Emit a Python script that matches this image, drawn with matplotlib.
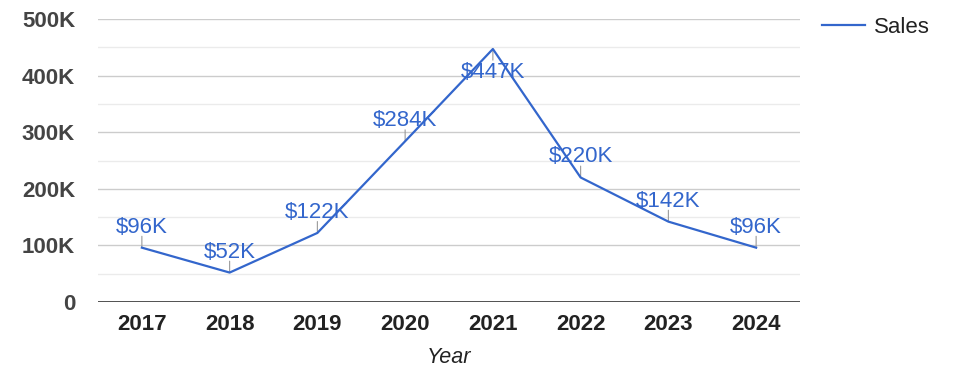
import matplotlib
matplotlib.use("Agg")
import matplotlib.pyplot as plt

plt.rcParams['font.family'] = ['Liberation Sans', 'DejaVu Sans']

years = ["2017", "2018", "2019", "2020", "2021", "2022", "2023", "2024"]
sales = [96000, 52000, 122000, 284000, 447000, 220000, 142000, 96000]
labels = ["$96K", "$52K", "$122K", "$284K", "$447K", "$220K", "$142K", "$96K"]
yticks = [0, 100000, 200000, 300000, 400000, 500000]
ytick_labels = ["0", "100K", "200K", "300K", "400K", "500K"]
minor_ticks = [50000, 150000, 250000, 350000, 450000]

BLUE = "#3366CC"
fig = plt.figure(figsize=(9.75, 3.78), dpi=100)
ax = fig.add_axes([98/975, 1 - 302/378, (800-98)/975, (302-19)/378])

x = list(range(len(years)))
ax.plot(x, sales, color=BLUE, lw=1.6, label="Sales", zorder=3)

ax.set_xlim(-0.5, len(years) - 0.5)
ax.set_ylim(0, 500000)

for v in minor_ticks:
    ax.axhline(v, color="#ebebeb", lw=1, zorder=0)
for v in yticks[1:]:
    ax.axhline(v, color="#cccccc", lw=1, zorder=0)
ax.axhline(0, color="#333333", lw=1.2, zorder=2)

ax.set_yticks(yticks)
ax.set_yticklabels(ytick_labels, fontsize=16, fontweight="bold", color="#444444")
ax.set_xticks(x)
ax.set_xticklabels(years, fontsize=16, fontweight="bold", color="#222222")
ax.tick_params(axis="y", length=0, pad=16.5)
ax.tick_params(axis="x", length=0, pad=9)
for s in ax.spines.values():
    s.set_visible(False)

ax.set_xlabel("Year", fontsize=15.5, fontstyle="italic", color="#222222", labelpad=8)

stem = dict(arrowstyle="-", color="#999999", lw=0.8, shrinkA=0, shrinkB=0)
for i, (xi, v, lab) in enumerate(zip(x, sales, labels)):
    if v >= 440000:
        # label below point
        ax.annotate("", xy=(xi, v), xytext=(0, -8), textcoords="offset points",
                    arrowprops=stem, zorder=1)
        ax.annotate(lab, xy=(xi, v), xytext=(0, -21), textcoords="offset points",
                    ha="center", va="baseline", fontsize=16, color=BLUE, zorder=4)
    else:
        ax.annotate("", xy=(xi, v), xytext=(0, 8.2), textcoords="offset points",
                    arrowprops=stem, zorder=1)
        ax.annotate(lab, xy=(xi, v), xytext=(0, 10.8), textcoords="offset points",
                    ha="center", va="baseline", fontsize=16, color=BLUE, zorder=4)

ax.legend(loc="upper left", bbox_to_anchor=(822/975, 1 - 17/378),
          bbox_transform=fig.transFigure, frameon=False, fontsize=16,
          handlelength=1.95, handletextpad=0.4, borderpad=0, borderaxespad=0,
          labelcolor="#222222")

fig.savefig("out.png", dpi=100)
